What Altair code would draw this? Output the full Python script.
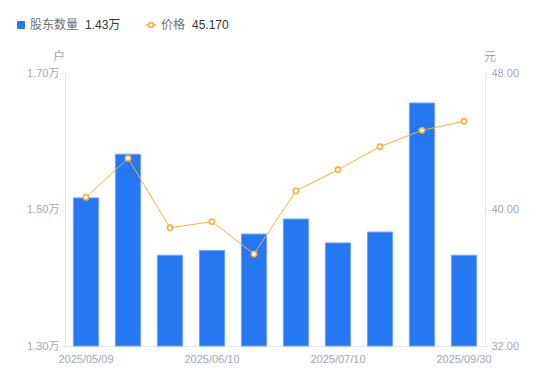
import altair as alt
import pandas as pd

dates = ["2025/05/09", "2025/05/20", "2025/05/30", "2025/06/10", "2025/06/20",
         "2025/06/30", "2025/07/10", "2025/07/31", "2025/08/29", "2025/09/30"]
holders = [1.517, 1.581, 1.433, 1.440, 1.464, 1.486, 1.451, 1.467, 1.656, 1.433]
prices = [40.72, 43.00, 38.93, 39.29, 37.39, 41.09, 42.33, 43.68, 44.64, 45.17]
shown_dates = [dates[0], dates[3], dates[6], dates[9]]
left_ticks = [1.30, 1.50, 1.70]
right_ticks = [32, 40, 48]
legend_holder_label = "股东数量"
legend_holder_value = "1.43万"
legend_price_label = "价格"
legend_price_value = "45.170"

BLUE = "#2677F2"
ORANGE = "#F8AE3C"
AXIS = "#e4e5e8"
LABEL = "#a3a6b4"
FONT = "Liberation Sans, 'Noto Sans CJK SC', sans-serif"

df = pd.DataFrame({"date": dates, "holders": holders, "price": prices})

x = alt.X("date:N", sort=dates, title=None,
          scale=alt.Scale(paddingInner=0.4, paddingOuter=0.2),
          axis=alt.Axis(values=shown_dates, labelAngle=0, ticks=False,
                        domainColor=AXIS, labelColor=LABEL, labelFontSize=11,
                        labelPadding=7, labelFont=FONT))

bars = alt.Chart(df).mark_bar(color=BLUE, stroke="#6ea3f6", strokeWidth=1).encode(
    x=x,
    y=alt.Y("holders:Q", title=None,
            scale=alt.Scale(domain=[1.3, 1.7], zero=False, nice=False),
            axis=alt.Axis(values=left_ticks, orient="left", grid=False,
                          labelExpr="format(datum.value, '.2f') + '万'",
                          tickSize=4, tickColor=AXIS, domainColor=AXIS,
                          labelColor=LABEL, labelFontSize=11, labelPadding=2,
                          labelFont=FONT)),
    y2=alt.datum(1.3),
)

line = alt.Chart(df).mark_line(
    color=ORANGE, strokeWidth=1,
    point=alt.OverlayMarkDef(filled=True, fill="white", stroke=ORANGE, size=28, strokeWidth=1.6),
).encode(
    x=x,
    y=alt.Y("price:Q", title=None,
            scale=alt.Scale(domain=[32, 48], zero=False, nice=False),
            axis=alt.Axis(values=right_ticks, orient="right", grid=False, format=".2f",
                          tickSize=4, tickColor=AXIS, domainColor=AXIS,
                          labelColor=LABEL, labelFontSize=11, labelPadding=2,
                          labelFont=FONT)),
)

one = alt.Data(values=[{"a": 1}])

def txt(s, xv, yv, color, align="left", size=12):
    return alt.Chart(one).mark_text(text=s, align=align, baseline="middle",
                                    fontSize=size, color=color, font=FONT).encode(
        x=alt.value(xv), y=alt.value(yv))

leg_sq = alt.Chart(one).mark_rect(color=BLUE, cornerRadius=1).encode(
    x=alt.value(-48), x2=alt.value(-40), y=alt.value(-52), y2=alt.value(-44))
leg_line = alt.Chart(one).mark_rule(color=ORANGE, strokeWidth=1.5).encode(
    x=alt.value(81), x2=alt.value(91), y=alt.value(-48))
leg_pt = alt.Chart(one).mark_point(filled=True, fill="white", stroke=ORANGE, size=22,
                                   strokeWidth=1.6, opacity=1).encode(
    x=alt.value(86), y=alt.value(-48))

chart = alt.layer(
    bars, line,
    leg_sq, txt(legend_holder_label, -35, -48, "#6b6f7a"), txt(legend_holder_value, 20, -48, "#333333"),
    leg_line, leg_pt, txt(legend_price_label, 96, -48, "#6b6f7a"), txt(legend_price_value, 127, -48, "#333333"),
    txt("户", -6, -16, LABEL, align="center"), txt("元", 425, -16, LABEL, align="center"),
).resolve_scale(y="independent").properties(
    width=420, height=273,
    autosize=alt.AutoSizeParams(type="none"),
    padding={"left": 57, "top": 65, "right": 57, "bottom": 27},
).configure_view(stroke=None)

chart.save("out.html", embed_options={"renderer": "svg", "actions": False})
